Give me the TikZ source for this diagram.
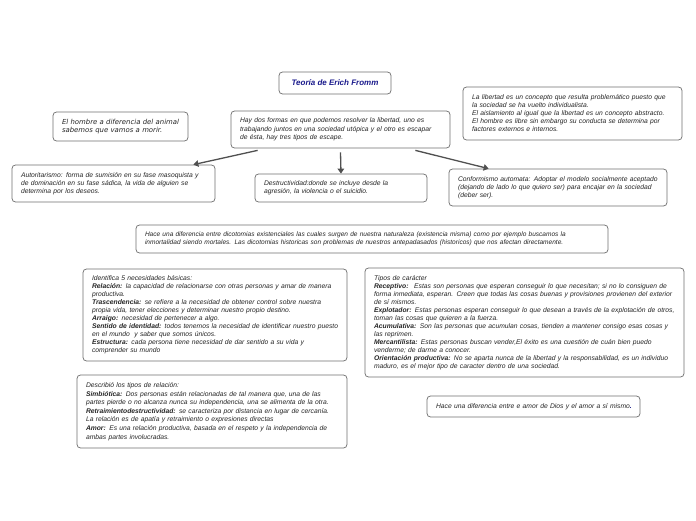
\documentclass[tikz,border=0pt]{standalone}
\usepackage{fontspec}
\setmainfont{Liberation Sans}
\newfontfamily\dvsans{DejaVu Sans}
\usetikzlibrary{arrows.meta,calc}
\definecolor{boxline}{HTML}{707070}
\definecolor{txt}{HTML}{262626}
\definecolor{arrowcol}{HTML}{505050}
\definecolor{titleblue}{HTML}{1A1A8C}
\newcommand{\txtlines}[1]{\begin{tabular}{@{}l@{}}#1\end{tabular}}
\tikzset{
  cbox/.style={draw=boxline, line width=0.75pt, rounded corners=3.5pt, fill=white,
    inner xsep=9pt, inner ysep=0pt, align=left, text=txt,
    font=\fontsize{6.75}{8}\selectfont\itshape},
  conn/.style={draw=arrowcol, line width=1.3pt, -{Triangle[length=5pt,width=6.5pt]}},
}
\begin{document}
\begin{tikzpicture}[x=1pt,y=-1pt]
\fill[white] (0,0) rectangle (696,520);
\useasboundingbox (0,0) rectangle (696,520);

\node[cbox, minimum width=112pt, minimum height=22pt, align=center, text=titleblue,
  font=\fontsize{8}{10}\selectfont\bfseries\itshape] (title) at (335,83) {Teoría de Erich Fromm};

\node[cbox, minimum width=135pt, minimum height=29pt, text width=117pt,
  font=\dvsans\fontsize{6.9}{8}\selectfont\itshape] (hombre) at (120.5,126.5)
  {\txtlines{El hombre a diferencia del animal\\sabemos que vamos a morir.}};

\node[cbox, minimum width=219pt, minimum height=37pt, text width=201pt,
  font=\fontsize{6.75}{8.5}\selectfont\itshape] (formas) at (340.5,129.5)
  {\txtlines{Hay dos formas en que podemos resolver la libertad, uno es\\trabajando juntos en una sociedad utópica y el otro es escapar\\de ésta, hay tres tipos de escape.}};

\node[cbox, minimum width=219pt, minimum height=53pt, text width=201pt] (libertad) at (572.5,113.5)
  {\txtlines{La libertad es un concepto que resulta problemático puesto que\\la sociedad se ha vuelto individualista.\\El aislamiento al igual que la libertad es un concepto abstracto.\\El hombre es libre sin embargo su conducta se determina por\\factores externos e internos.}};

\node[cbox, minimum width=203pt, minimum height=37pt, text width=185pt] (autor) at (113.5,183.5)
  {\txtlines{Autoritarismo: forma de sumisión en su fase masoquista y\\de dominación en su fase sádica, la vida de alguien se\\determina por los deseos.}};

\node[cbox, minimum width=172pt, minimum height=28pt, text width=154pt] (destr) at (341,188)
  {\txtlines{Destructividad:donde se incluye desde la\\agresión, la violencia o el suicidio.}};

\node[cbox, minimum width=218pt, minimum height=37pt, text width=200pt] (conf) at (558,187.5)
  {\txtlines{Conformismo automata: Adoptar el modelo socialmente aceptado\\(dejando de lado lo que quiero ser) para encajar en la sociedad\\(deber ser).}};

\node[cbox, minimum width=472pt, minimum height=28pt, text width=454pt,
  font=\fontsize{6.55}{8}\selectfont\itshape] (dicot) at (372,239)
  {\txtlines{Hace una diferencia entre dicotomias existenciales las cuales surgen de nuestra naturaleza (existencia misma) como por ejemplo buscamos la\\inmortalidad siendo mortales. Las dicotomias historicas son problemas de nuestros antepadasados (historicos) que nos afectan directamente.}};

\node[cbox, minimum width=264pt, minimum height=92pt, text width=246pt] (necesid) at (215,315)
  {\txtlines{Identifica 5 necesidades básicas:\\
  \textbf{Relación:} la capacidad de relacionarse con otras personas y amar de manera\\productiva.\\
  \textbf{Trascendencia:} se refiere a la necesidad de obtener control sobre nuestra\\propia vida, tener elecciones y determinar nuestro propio destino.\\
  \textbf{Arraigo:} necesidad de pertenecer a algo.\\
  \textbf{Sentido de identidad:} todos tenemos la necesidad de identificar nuestro puesto\\en el mundo \ y saber que somos únicos.\\
  \textbf{Estructura:} cada persona tiene necesidad de dar sentido a su vida y\\comprender su mundo}};

\node[cbox, minimum width=319pt, minimum height=109pt, text width=301pt] (tipos) at (524.5,322.5)
  {\txtlines{Tipos de carácter\\
  \textbf{Receptivo:} \ Estas son personas que esperan conseguir lo que necesitan; si no lo consiguen de\\forma inmediata, esperan. Creen que todas las cosas buenas y provisiones provienen del exterior\\de sí mismos.\\
  \textbf{Explotador:} Estas personas esperan conseguir lo que desean a través de la explotación de otros,\\toman las cosas que quieren a la fuerza.\\
  \textbf{Acumulativa:} Son las personas que acumulan cosas, tienden a mantener consigo esas cosas y\\las reprimen.\\
  \textbf{Mercantilista:} Estas personas buscan vender,El éxito es una cuestión de cuán bien puedo\\venderme; de darme a conocer.\\
  \textbf{Orientación productiva:} No se aparta nunca de la libertad y la responsabilidad, es un individuo\\maduro, es el mejor tipo de caracter dentro de una sociedad.}};

\node[cbox, minimum width=270pt, minimum height=73pt, text width=252pt,
  font=\fontsize{6.75}{8.6}\selectfont\itshape] (relac) at (212,411.5)
  {\txtlines{Describió los tipos de relación:\\
  \textbf{Simbiótica:} Dos personas están relacionadas de tal manera que, una de las\\partes pierde o no alcanza nunca su independencia, una se alimenta de la otra.\\
  \textbf{Retraimientodestructividad:} se caracteriza por distancia en lugar de cercanía.\\
  La relación es de apatía y retraimiento o expresiones directas\\
  \textbf{Amor:} Es una relación productiva, basada en el respeto y la independencia de\\ambas partes involucradas.}};

\node[cbox, minimum width=213pt, minimum height=21pt, text width=195pt] (dios) at (533.5,406.5)
  {\txtlines{Hace una diferencia entre e amor de Dios y el amor a sí mismo\textcolor{titleblue}{\textbf{.}}}};

\coordinate (s1) at ($(formas.south west)+(27,2)$);
\coordinate (e1) at ($(autor.north east)+(-22,0)$);
\coordinate (s2) at ($(formas.south)+(0,4)$);
\coordinate (s3) at ($(formas.south east)+(-35,2)$);
\coordinate (e3) at ($(conf.north west)+(40,0)$);
\draw[conn] (s1) -- (e1);
\draw[conn] (s2) -- (destr.north);
\draw[conn] (s3) -- (e3);
\end{tikzpicture}
\end{document}
